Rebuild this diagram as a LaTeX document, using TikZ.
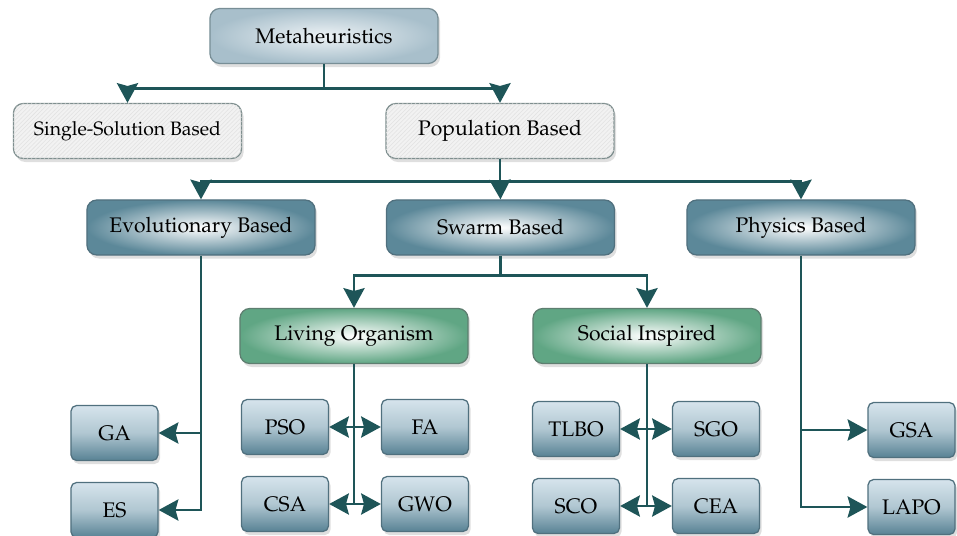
\documentclass[tikz,border=0pt]{standalone}
\usepackage[T1]{fontenc}
\usepackage{mathpazo}
\usepackage{tikz}
\usetikzlibrary{arrows.meta,positioning,shadows,patterns,calc}
\definecolor{linec}{RGB}{30,85,88}
\definecolor{metain}{RGB}{238,243,246}
\definecolor{metaout}{RGB}{168,191,203}
\definecolor{metabd}{RGB}{120,142,150}
\definecolor{catout}{RGB}{92,136,153}
\definecolor{catbd}{RGB}{80,112,126}
\definecolor{grnout}{RGB}{96,166,132}
\definecolor{grnbd}{RGB}{94,126,112}
\definecolor{leaftop}{RGB}{214,228,236}
\definecolor{leafbot}{RGB}{88,130,148}
\definecolor{hatchfill}{RGB}{242,242,242}
\definecolor{hatchln}{RGB}{226,226,226}
\definecolor{hatchbd}{RGB}{126,142,142}

\begin{document}
\begin{tikzpicture}[x=0.025cm,y=-0.025cm,
	every node/.style={font=\fontsize{15}{18}\selectfont,inner sep=0pt,line width=0.9pt,
		drop shadow={opacity=0.25,shadow xshift=1.5pt,shadow yshift=-2.5pt}},
	bigbox/.style={rounded corners=7pt,minimum width=5.7cm,minimum height=1.375cm},
	metabox/.style={bigbox,draw=metabd,inner color=metain,outer color=metaout},
	hatchbox/.style={bigbox,draw=hatchbd,fill=hatchfill,
		postaction={pattern=north east lines,pattern color=hatchln}},
	catbox/.style={bigbox,draw=catbd,inner color=white,outer color=catout},
	grnbox/.style={bigbox,draw=grnbd,inner color=white,outer color=grnout},
	leafbox/.style={rounded corners=4pt,minimum width=2.175cm,minimum height=1.375cm,
		draw=catbd,top color=leaftop,bottom color=leafbot,middle color=leaftop!70!leafbot},
	link/.style={draw=linec,line width=2pt,-{Stealth[length=14pt,width=15pt,inset=2pt]}},
	dlink/.style={link,{Stealth[length=14pt,width=15pt,inset=2pt]}-{Stealth[length=14pt,width=15pt,inset=2pt]}},
	plain/.style={draw=linec,line width=2pt}]
	\useasboundingbox (0,0) rectangle (957,536);

	% top levels
	\node[metabox] (nMeta) at (324,36) {Metaheuristics};
	\node[hatchbox,font=\fontsize{13.8}{16}\selectfont] (nSingle) at (127.5,131) {Single-Solution Based};
	\node[hatchbox] (nPop) at (500,131) {Population Based};

	\node[catbox] (nEvo) at (201,227.5) {Evolutionary Based};
	\node[catbox] (nSwarm) at (500.5,227.5) {Swarm Based};
	\node[catbox] (nPhys) at (801,227.5) {Physics Based};

	\node[grnbox] (nLiving) at (354,336) {Living Organism};
	\node[grnbox] (nSocial) at (647,336) {Social Inspired};

	% leaves
	\node[leafbox] (nGA) at (114.5,433) {GA};
	\node[leafbox] (nES) at (114.5,510) {ES};
	\node[leafbox] (nPSO) at (285,427) {PSO};
	\node[leafbox] (nFA) at (425,427) {FA};
	\node[leafbox] (nCSA) at (285,504) {CSA};
	\node[leafbox] (nGWO) at (425,504) {GWO};
	\node[leafbox] (nTLBO) at (576,429) {TLBO};
	\node[leafbox] (nSGO) at (716,429) {SGO};
	\node[leafbox] (nSCO) at (576,506) {SCO};
	\node[leafbox] (nCEA) at (716,506) {CEA};
	\node[leafbox] (nGSA) at (911.5,430) {GSA};
	\node[leafbox] (nLAPO) at (911.5,507) {LAPO};

	% connectors
	\draw[plain] (nMeta.south) -- ++(0,24) coordinate (cM);
	\draw[link] (cM) -| (nSingle.north);
	\draw[link] (cM) -| (nPop.north);

	\draw[plain] (nPop.south) -- ++(0,22) coordinate (cP);
	\draw[link] (cP) -| (nEvo.north);
	\draw[link] (cP) -- (nSwarm.north);
	\draw[link] (cP) -| (nPhys.north);

	\draw[plain] (nSwarm.south) -- ++(0,20) coordinate (cS);
	\draw[link] (cS) -| (nLiving.north);
	\draw[link] (cS) -| (nSocial.north);

	\draw[link] (nEvo.south) |- (nES.east);
	\draw[link] (nEvo.south |- nGA.east) -- (nGA.east);

	\draw[plain] (nLiving.south) -- (nLiving.south |- nCSA.east);
	\draw[dlink] (nPSO.east) -- (nFA.west);
	\draw[dlink] (nCSA.east) -- (nGWO.west);

	\draw[plain] (nSocial.south) -- (nSocial.south |- nSCO.east);
	\draw[dlink] (nTLBO.east) -- (nSGO.west);
	\draw[dlink] (nSCO.east) -- (nCEA.west);

	\draw[link] (nPhys.south) |- (nLAPO.west);
	\draw[link] (nPhys.south |- nGSA.west) -- (nGSA.west);
\end{tikzpicture}
\end{document}
